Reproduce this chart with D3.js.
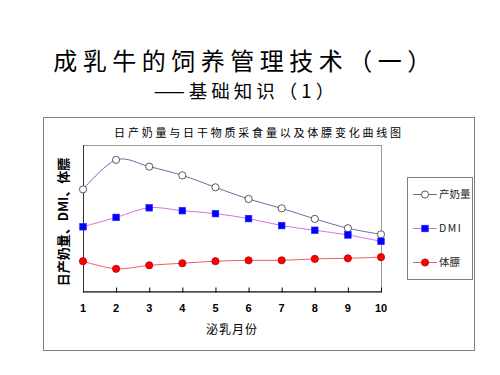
<!DOCTYPE html>
<html>
<head>
<meta charset="utf-8">
<script src="https://cdn.jsdelivr.net/npm/d3@7"></script>
<style>
  body { margin: 0; background: #fff; }
  svg { display: block; }
  .cjk { font-family: "Noto Sans CJK SC", sans-serif; }
</style>
</head>
<body>
<script>
// months on the x axis
var months = [1, 2, 3, 4, 5, 6, 7, 8, 9, 10];
// (no y ticks, so units are arbitrary)
var milk = [34.8, 44.9, 42.6, 39.6, 35.5, 31.5, 28.3, 24.7, 21.5, 19.4];
var dmi  = [22.0, 25.2, 28.5, 27.5, 26.5, 24.8, 22.4, 20.8, 19.2, 17.0];
var body = [10.2, 7.6, 8.8, 9.5, 10.2, 10.5, 10.5, 11.0, 11.2, 11.6];
var seriesNames = ["产奶量", "DMI", "体膘"];

var W = 500, H = 375;
var plot = {left: 83, right: 381, top: 145, bottom: 291};

var svg = d3.select("body").append("svg")
    .attr("width", W)
    .attr("height", H);

// slide titles
svg.append("text")
    .attr("class", "cjk")
    .attr("x", 245).attr("y", 70)
    .attr("text-anchor", "middle")
    .style("font-size", "24px")
    .style("letter-spacing", "5.5px")
    .attr("fill", "#000")
    .text("成乳牛的饲养管理技术（一）");

svg.append("text")
    .attr("class", "cjk")
    .attr("x", 246).attr("y", 98)
    .attr("text-anchor", "middle")
    .style("font-size", "18.5px")
    .style("letter-spacing", "4px")
    .attr("fill", "#000")
    .text("——基础知识（1）");

// outer chart frame
svg.append("rect")
    .attr("x", 43.5).attr("y", 117.5)
    .attr("width", 431).attr("height", 233)
    .attr("fill", "#fff")
    .attr("stroke", "#808080");

svg.append("text")
    .attr("class", "cjk")
    .attr("x", 259).attr("y", 137)
    .attr("text-anchor", "middle")
    .style("font-size", "11px")
    .style("letter-spacing", "2.8px")
    .text("日产奶量与日干物质采食量以及体膘变化曲线图");

var x = d3.scaleLinear().domain([1, 10]).range([plot.left, plot.right]),
    y = d3.scaleLinear().domain([0, 50]).range([plot.bottom, plot.top]);

// plot area border
svg.append("rect")
    .attr("x", plot.left + 0.5).attr("y", plot.top + 0.5)
    .attr("width", plot.right - plot.left).attr("height", plot.bottom - plot.top)
    .attr("fill", "none")
    .attr("stroke", "#9a9a9a");

// x axis
var xAxis = d3.axisBottom(x).tickValues(months).tickSizeInner(-4).tickSizeOuter(0).tickFormat("");
svg.append("g")
    .attr("transform", "translate(0," + (plot.bottom + 0.5) + ")")
    .call(xAxis)
    .call(function(g) {
        g.select(".domain").attr("stroke", "#000");
        g.selectAll(".tick line").attr("y2", -4).attr("y1", 1).attr("stroke", "#000");
    });

svg.append("g").selectAll("text")
    .data(months)
    .enter().append("text")
    .attr("x", function(d) { return x(d); })
    .attr("y", 312)
    .attr("text-anchor", "middle")
    .style("font", "bold 11px Arial, 'Liberation Sans', sans-serif")
    .text(function(d) { return d; });

// y axis line
svg.append("line")
    .attr("x1", plot.left + 0.5).attr("x2", plot.left + 0.5)
    .attr("y1", plot.top).attr("y2", plot.bottom)
    .attr("stroke", "#333");

svg.append("text")
    .attr("class", "cjk")
    .attr("x", 232).attr("y", 334)
    .attr("text-anchor", "middle")
    .style("font-size", "12px")
    .style("letter-spacing", "1px")
    .text("泌乳月份");

svg.append("text")
    .attr("class", "cjk")
    .attr("transform", "translate(68,222)rotate(-90)")
    .attr("text-anchor", "middle")
    .style("font-size", "13px")
    .style("font-weight", "bold")
    .text("日产奶量、DMI、体膘");

var line = d3.line()
    .curve(d3.curveCardinal.tension(0))
    .x(function(d, i) { return x(months[i]); })
    .y(function(d) { return y(d); });

var series = [
    {name: seriesNames[0], values: milk, stroke: "#6b6bab", shape: "circle", fill: "#fff", mstroke: "#333"},
    {name: seriesNames[1], values: dmi, stroke: "#e36be3", shape: "square", fill: "#0000ff", mstroke: "#2020ff"},
    {name: seriesNames[2], values: body, stroke: "#e86060", shape: "circle", fill: "#ff0000", mstroke: "#b00000"}
];

function marker(g, s, cx, cy) {
    if (s.shape === "circle") {
        g.append("circle")
            .attr("cx", cx).attr("cy", cy).attr("r", 3.6)
            .attr("fill", s.fill).attr("stroke", s.mstroke).attr("stroke-width", 0.8);
    } else {
        g.append("rect")
            .attr("x", cx - 3.3).attr("y", cy - 3.3)
            .attr("width", 6.6).attr("height", 6.6)
            .attr("fill", s.fill).attr("stroke", s.mstroke).attr("stroke-width", 0.6);
    }
}

series.forEach(function(s) {
    var g = svg.append("g");
    g.append("path")
        .attr("d", line(s.values))
        .attr("fill", "none")
        .attr("stroke", s.stroke)
        .attr("stroke-width", 1);
    s.values.forEach(function(v, i) {
        marker(g, s, x(months[i]), y(v));
    });
});

// legend
svg.append("rect")
    .attr("x", 407.5).attr("y", 177.5)
    .attr("width", 65).attr("height", 102)
    .attr("fill", "#fff")
    .attr("stroke", "#808080");

series.forEach(function(s, i) {
    var ly = 194 + i * 34;
    var g = svg.append("g");
    g.append("line")
        .attr("x1", 413).attr("x2", 437)
        .attr("y1", ly + 0.5).attr("y2", ly + 0.5)
        .attr("stroke", s.stroke);
    marker(g, s, 425, ly + 0.5);
    g.append("text")
        .attr("class", "cjk")
        .attr("x", 439).attr("y", ly + 4)
        .style("font-size", "10.5px")
        .style("letter-spacing", i === 1 ? "1.5px" : "0px")
        .attr("fill", "#222")
        .text(s.name);
});
</script>
</body>
</html>
